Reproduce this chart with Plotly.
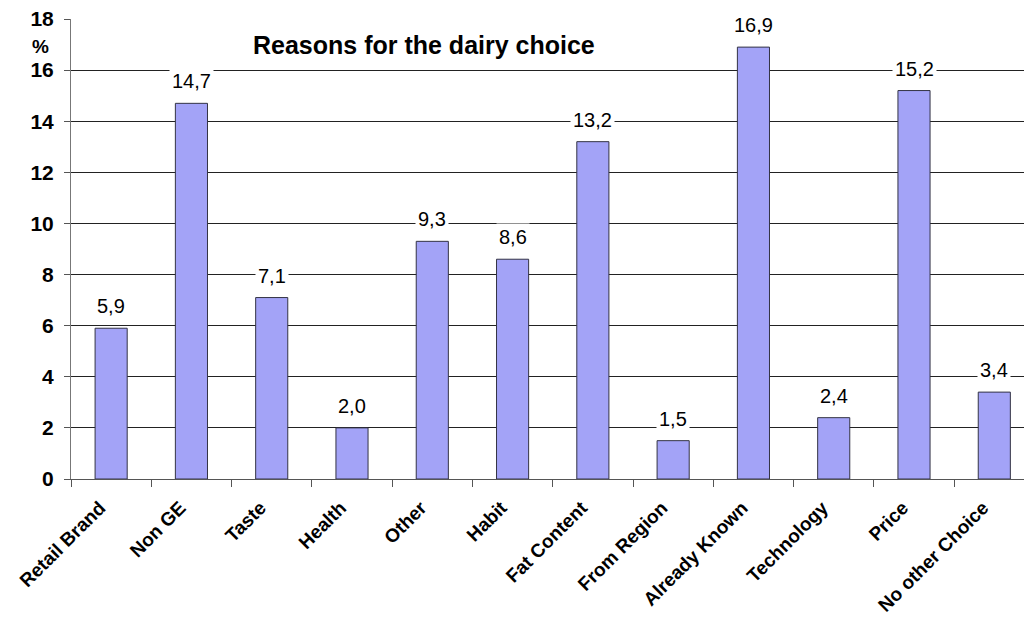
import plotly.graph_objects as go

categories = ["Retail Brand", "Non GE", "Taste", "Health", "Other", "Habit",
              "Fat Content", "From Region", "Already Known", "Technology",
              "Price", "No other Choice"]
values = [5.9, 14.7, 7.1, 2.0, 9.3, 8.6, 13.2, 1.5, 16.9, 2.4, 15.2, 3.4]
labels = ["5,9", "14,7", "7,1", "2,0", "9,3", "8,6", "13,2", "1,5", "16,9", "2,4", "15,2", "3,4"]
y_ticks = [0, 2, 4, 6, 8, 10, 12, 14, 16, 18]

FONT = "Arial, Liberation Sans, sans-serif"

fig = go.Figure()
fig.add_trace(go.Bar(
    x=categories, y=values,
    marker=dict(color="#A3A3F7", line=dict(color="#333344", width=1)),
    width=0.4,
    hoverinfo="skip",
))

for c, v, t in zip(categories, values, labels):
    fig.add_annotation(
        x=c, y=v, text=t, showarrow=False, xref="x", yref="y",
        yanchor="middle", yshift=22,
        font=dict(family=FONT, size=20, color="black"),
        bgcolor="white", borderpad=2,
    )

fig.add_annotation(
    x=(424 - 71) / 953, y=(479 - 45) / 460, xref="paper", yref="paper",
    text="Reasons for the dairy choice", showarrow=False,
    font=dict(family=FONT, size=25, color="black", weight="bold"),
    xanchor="center", yanchor="middle",
)
fig.add_annotation(
    x=(40 - 71) / 953, y=(479 - 46) / 460, xref="paper", yref="paper",
    text="%", showarrow=False,
    font=dict(family=FONT, size=19, color="black", weight="bold"),
    xanchor="center", yanchor="middle",
)

fig.update_layout(
    width=1024, height=622,
    margin=dict(l=71, r=0, t=19, b=143, pad=0, autoexpand=False),
    paper_bgcolor="white", plot_bgcolor="white",
    showlegend=False,
    xaxis=dict(
        type="category", range=[-0.5, 11.37], automargin=False,
        tickvals=categories,
        ticktext=[c + "\u00a0\u00a0\u00a0" for c in categories],
        tickson="boundaries", ticks="outside", ticklen=7, tickcolor="#555555",
        tickangle=-45,
        tickfont=dict(family=FONT, size=19, color="black", weight="bold"),
        showline=True, linecolor="#555555", linewidth=1,
        showgrid=False, ticklabelstandoff=-2,
    ),
    yaxis=dict(
        range=[0, 18], tickvals=y_ticks, ticks="outside", ticklen=6,
        automargin=False,
        tickcolor="#555555",
        tickfont=dict(family=FONT, size=21, color="black", weight="bold"),
        showline=True, linecolor="#777777", linewidth=1, mirror=False,
        showgrid=True, gridcolor="#222222", gridwidth=1,
        zeroline=False, ticklabelstandoff=6,
    ),
)
fig.write_html("out.html")
